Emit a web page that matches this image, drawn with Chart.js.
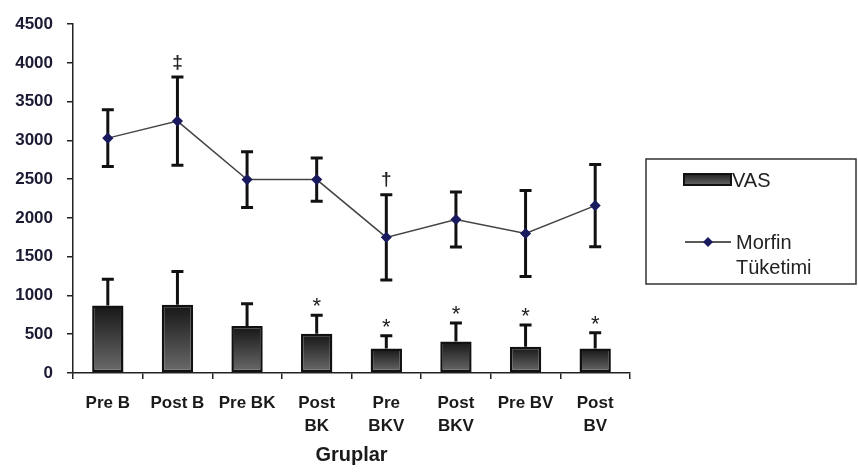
<!DOCTYPE html>
<html>
<head>
<meta charset="utf-8">
<script src="https://cdn.jsdelivr.net/npm/chart.js@4"></script>
<style>
    body { margin: 0; background: #fff; }
</style>
</head>
<body>
<canvas id="grafico" width="858" height="472"></canvas>
<script>
// categories and values
const categories = ['Pre B', 'Post B', 'Pre BK', ['Post', 'BK'], ['Pre', 'BKV'], ['Post', 'BKV'], 'Pre BV', ['Post', 'BV']];
const vasValues = [870, 880, 605, 505, 315, 405, 340, 315];
const vasErr = [340, 430, 290, 240, 165, 240, 280, 205];
const morfinValues = [3030, 3250, 2495, 2495, 1750, 1980, 1800, 2160];
const morfinErr = [365, 570, 360, 280, 550, 355, 555, 530];
const vasMarks = ['', '', '', '*', '*', '*', '*', '*'];
const morfinMarks = ['', '‡', '', '', '†', '', '', ''];
const yTicks = [0, 500, 1000, 1500, 2000, 2500, 3000, 3500, 4000, 4500];

const FONT = '"Liberation Sans", Arial, sans-serif';

function barGradient(context) {
    const chart = context.chart;
    if (!chart.chartArea) return '#444';
    const y = chart.scales.y;
    const top = y.getPixelForValue(vasValues[context.dataIndex]);
    const bottom = y.getPixelForValue(0);
    const g = chart.ctx.createLinearGradient(0, top, 0, bottom);
    g.addColorStop(0, '#161616');
    g.addColorStop(1, '#6c6c6c');
    return g;
}

// error bars, significance marks and the boxed legend
const extrasPlugin = {
    id: 'extras',
    beforeDatasetsDraw(chart) {
        const ctx = chart.ctx;
        const x = chart.scales.x;
        const y = chart.scales.y;
        ctx.save();
        ctx.strokeStyle = '#111';
        ctx.lineWidth = 3;
        morfinValues.forEach(function (v, i) {
            const px = x.getPixelForValue(i);
            const top = y.getPixelForValue(v + morfinErr[i]);
            const bot = y.getPixelForValue(v - morfinErr[i]);
            ctx.beginPath();
            ctx.moveTo(px, top); ctx.lineTo(px, bot);
            ctx.moveTo(px - 6, top); ctx.lineTo(px + 6, top);
            ctx.moveTo(px - 6, bot); ctx.lineTo(px + 6, bot);
            ctx.stroke();
        });
        ctx.restore();
    },
    afterDatasetsDraw(chart) {
        const ctx = chart.ctx;
        const x = chart.scales.x;
        const y = chart.scales.y;
        ctx.save();
        ctx.strokeStyle = '#111';
        ctx.lineWidth = 3;
        vasValues.forEach(function (v, i) {
            const px = x.getPixelForValue(i);
            const top = y.getPixelForValue(v + vasErr[i]);
            const base = y.getPixelForValue(v);
            ctx.beginPath();
            ctx.moveTo(px, base); ctx.lineTo(px, top);
            ctx.moveTo(px - 6, top); ctx.lineTo(px + 6, top);
            ctx.stroke();
        });

        ctx.fillStyle = '#222';
        ctx.textAlign = 'center';
        ctx.textBaseline = 'bottom';
        ctx.font = '22px ' + FONT;
        vasMarks.forEach(function (m, i) {
            if (!m) return;
            ctx.fillText(m, x.getPixelForValue(i), y.getPixelForValue(vasValues[i] + vasErr[i]) + 3);
        });
        ctx.font = 'bold 19px ' + FONT;
        morfinMarks.forEach(function (m, i) {
            if (!m) return;
            ctx.fillText(m, x.getPixelForValue(i), y.getPixelForValue(morfinValues[i] + morfinErr[i]) - 5);
        });

        // legend box
        ctx.strokeStyle = '#333';
        ctx.lineWidth = 1.5;
        ctx.strokeRect(646, 159, 210, 125);

        const sw = ctx.createLinearGradient(0, 174, 0, 185);
        sw.addColorStop(0, '#222');
        sw.addColorStop(1, '#666');
        ctx.fillStyle = sw;
        ctx.fillRect(684, 174, 47, 11);
        ctx.strokeStyle = '#111';
        ctx.lineWidth = 2;
        ctx.strokeRect(684, 174, 47, 11);

        ctx.strokeStyle = '#222';
        ctx.lineWidth = 1.5;
        ctx.beginPath();
        ctx.moveTo(685, 242); ctx.lineTo(731, 242);
        ctx.stroke();
        ctx.fillStyle = '#1a1a5e';
        ctx.beginPath();
        ctx.moveTo(708, 237); ctx.lineTo(713, 242); ctx.lineTo(708, 247); ctx.lineTo(703, 242);
        ctx.closePath();
        ctx.fill();

        ctx.fillStyle = '#222';
        ctx.textAlign = 'left';
        ctx.textBaseline = 'middle';
        ctx.font = '20px ' + FONT;
        ctx.fillText(chart.data.datasets[1].label, 732, 181);
        ctx.fillText('Morfin', 736, 243);
        ctx.fillText('Tüketimi', 736, 268);
        ctx.restore();
    }
};

const ctx = document.getElementById('grafico').getContext('2d');
new Chart(ctx, {
    data: {
        labels: categories,
        datasets: [{
            type: 'line',
            label: 'Morfin Tüketimi',
            data: morfinValues,
            borderColor: '#444',
            borderWidth: 1.5,
            pointStyle: 'rectRot',
            pointRadius: 4.5,
            pointBackgroundColor: '#1a1a5e',
            pointBorderColor: '#1a1a5e',
            tension: 0,
            order: 0
        }, {
            type: 'bar',
            label: 'VAS',
            data: vasValues,
            backgroundColor: barGradient,
            borderColor: '#111',
            borderWidth: 2.5,
            borderSkipped: false,
            categoryPercentage: 1,
            barPercentage: 0.45,
            order: 1
        }]
    },
    options: {
        responsive: false,
        animation: false,
        layout: { padding: { top: 16, right: 228, left: 0, bottom: 0 } },
        plugins: {
            legend: { display: false },
            tooltip: { enabled: false }
        },
        scales: {
            x: {
                offset: true,
                afterFit: function (scale) { scale.height = 99; },
                border: { color: '#222', width: 1.5 },
                grid: { drawOnChartArea: false, color: '#222', lineWidth: 1.5, tickLength: 6, offset: true },
                ticks: {
                    color: '#1a1a1a',
                    font: { family: FONT, size: 17, weight: 'bold', lineHeight: 1.35 },
                    padding: 13,
                    maxRotation: 0,
                    autoSkip: false
                },
                title: {
                    display: true,
                    text: 'Gruplar',
                    color: '#1a1a1a',
                    font: { family: FONT, size: 20, weight: 'bold' },
                    padding: { top: 0, bottom: 5 }
                }
            },
            y: {
                min: 0,
                max: 4500,
                afterFit: function (scale) { scale.width = 73; },
                afterBuildTicks: function (scale) { scale.ticks = yTicks.map(v => ({ value: v })); },
                border: { color: '#222', width: 1.5 },
                grid: { drawOnChartArea: false, color: '#222', lineWidth: 1.5, tickLength: 6 },
                ticks: {
                    color: '#1a1a33',
                    font: { family: FONT, size: 17, weight: 'bold' },
                    padding: 14,
                    callback: function (value) { return String(value); }
                }
            }
        }
    },
    plugins: [extrasPlugin]
});
</script>
</body>
</html>
